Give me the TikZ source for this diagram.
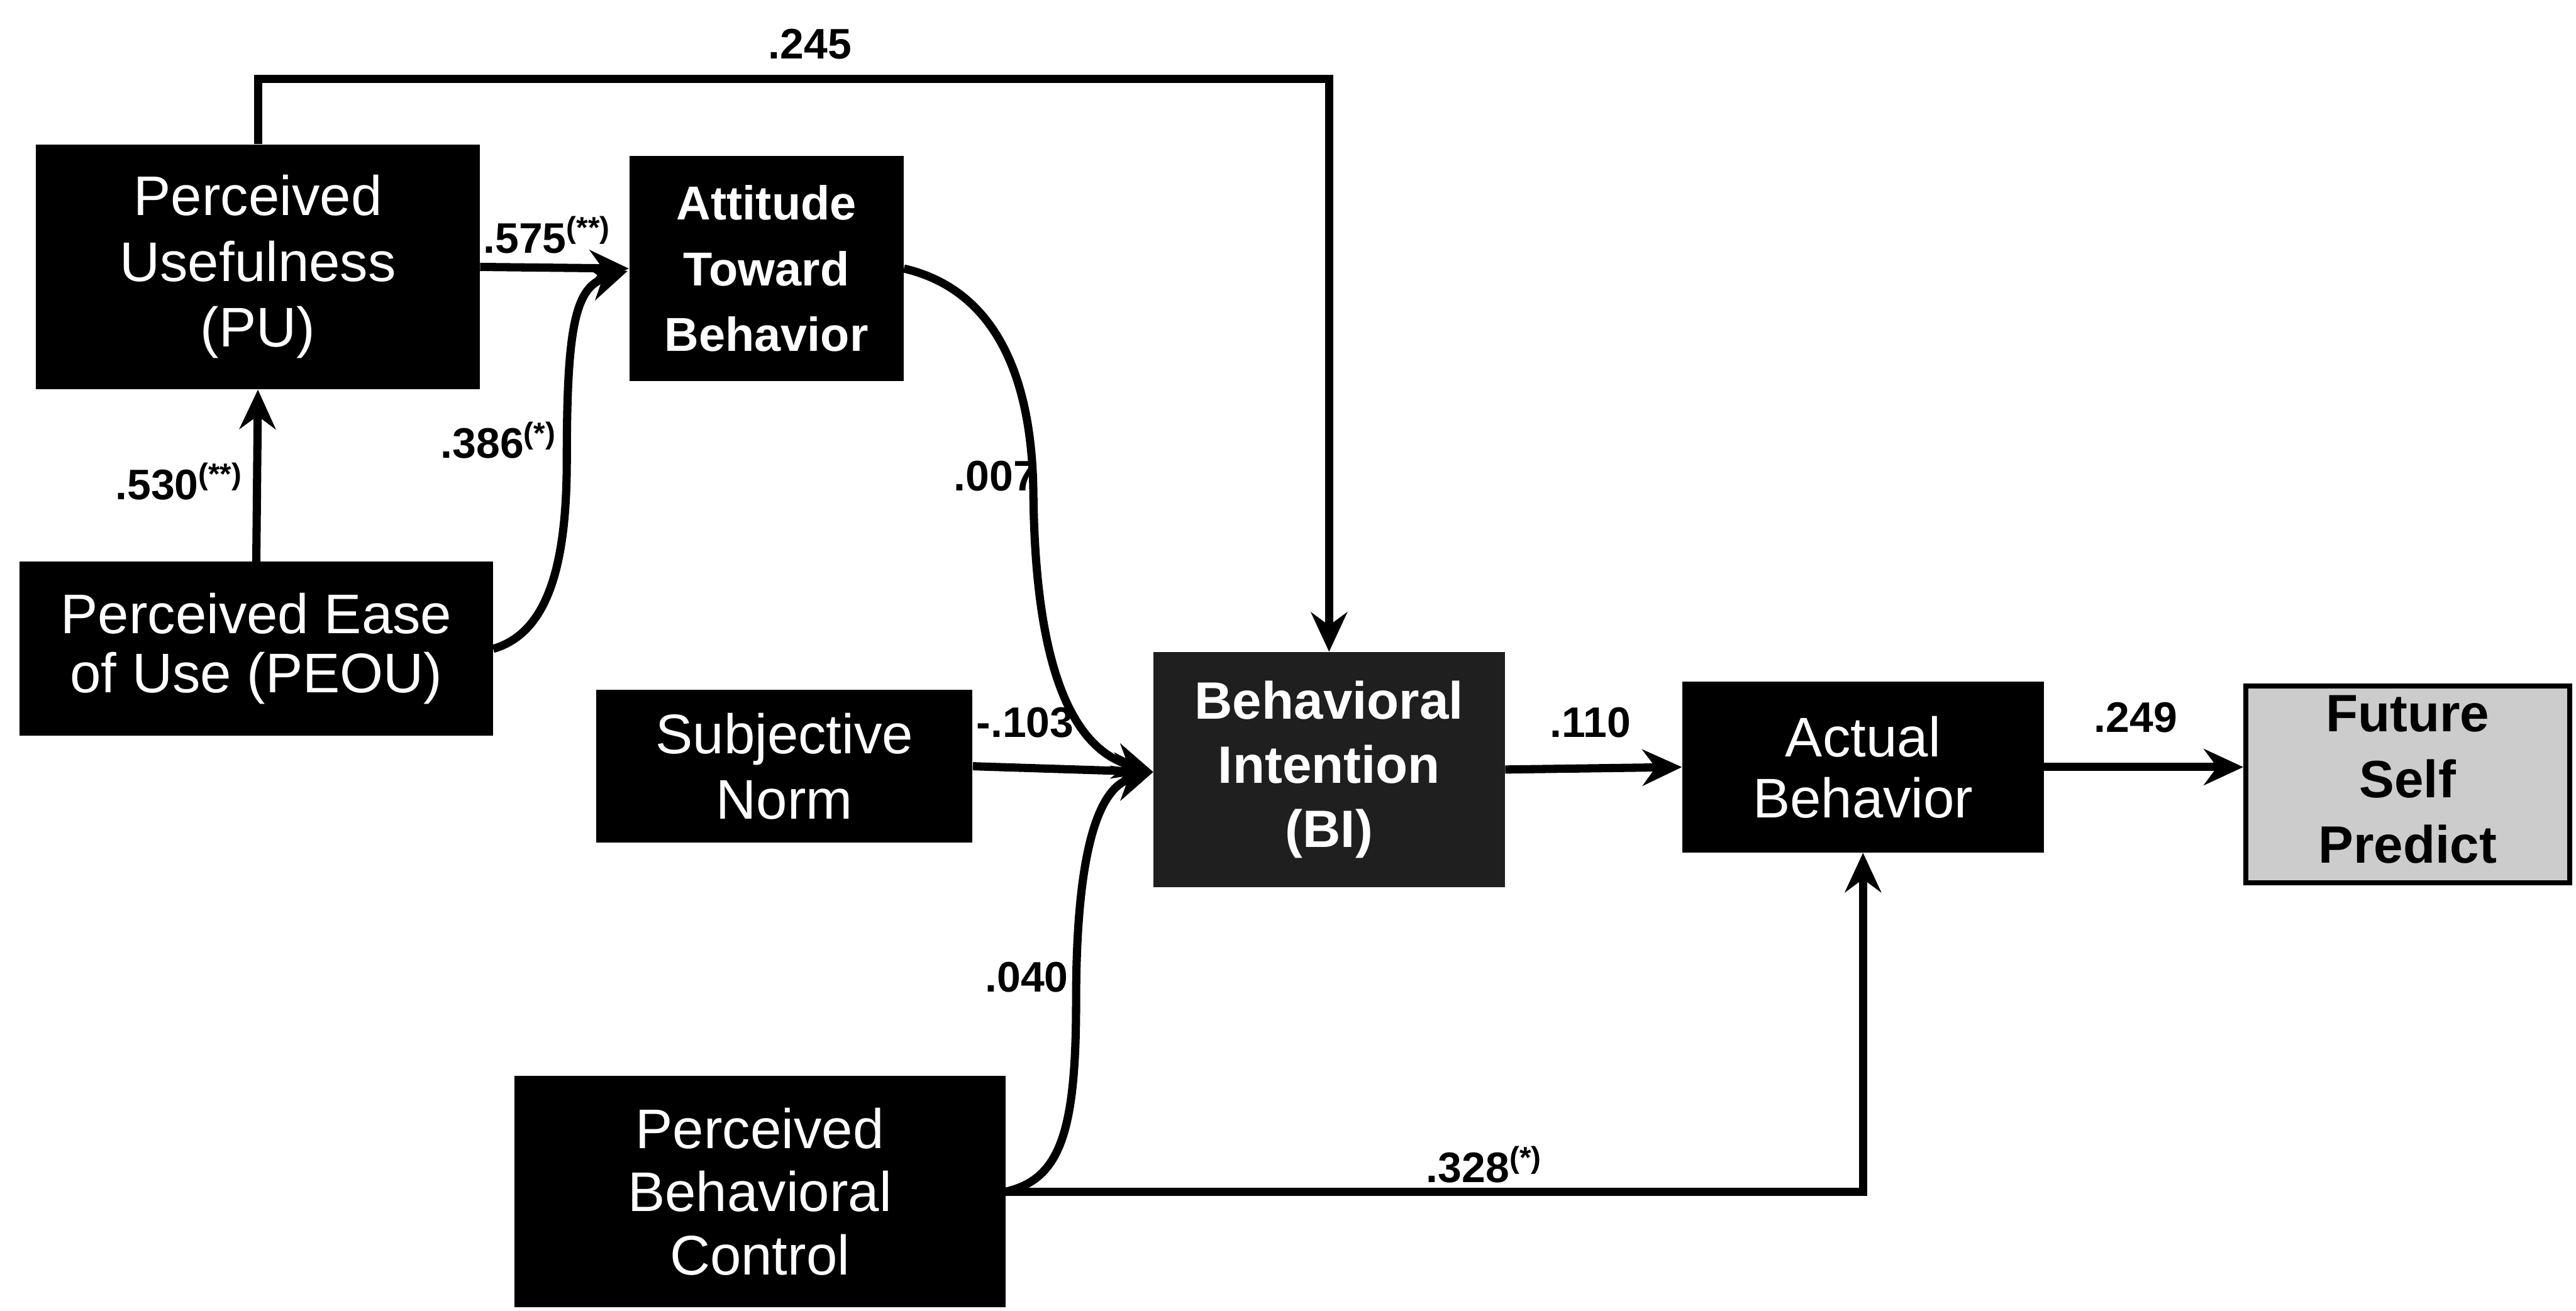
\documentclass[tikz,border=0pt]{standalone}
\usepackage{fontspec}
\setmainfont{Liberation Sans}
\usetikzlibrary{arrows.meta}
\begin{document}
\begin{tikzpicture}[x=1pt,y=-1pt,
  blk/.style={fill=black,text=white,inner sep=0pt,align=center,
    font=\fontsize{34}{40}\selectfont},
  conn/.style={line width=5pt,-{Stealth[length=24pt,width=22pt,inset=8pt]}},
  lbl/.style={font=\bfseries\fontsize{26}{30}\selectfont,inner sep=0pt}]
\useasboundingbox (0,0) rectangle (1568,798);
\fill[white] (0,0) rectangle (1568,798);
% nodes
\node[blk,minimum width=270pt,minimum height=149pt] (pu) at (157,162.5) {Perceived\\Usefulness\\(PU)};
\node[blk,minimum width=167pt,minimum height=137pt,font=\bfseries\fontsize{29}{40}\selectfont] (att) at (466.5,163.5) {Attitude\\Toward\\Behavior};
\node[blk,minimum width=288pt,minimum height=106pt,font=\fontsize{34}{36}\selectfont] (peou) at (156,395) {Perceived Ease\\of Use (PEOU)};
\node[blk,minimum width=229pt,minimum height=93pt] (sn) at (477.5,466.5) {Subjective\\Norm};
\node[blk,fill=black!88,minimum width=214pt,minimum height=143pt,font=\bfseries\fontsize{32}{39}\selectfont] (bi) at (809,468.5) {Behavioral\\Intention\\(BI)};
\node[blk,minimum width=220pt,minimum height=104pt,font=\fontsize{34}{37}\selectfont] (act) at (1134,467) {Actual\\Behavior};
\node[blk,fill=black!20,text=black,draw=black,line width=3pt,minimum width=197pt,minimum height=117pt,font=\bfseries\fontsize{32}{40}\selectfont] (fut) at (1465.5,477.5) {\raisebox{7pt}{\begin{tabular}{@{}c@{}}Future\\Self\\Predict\end{tabular}}};
\node[blk,minimum width=299pt,minimum height=141pt,font=\fontsize{34}{38.5}\selectfont] (pbc) at (462.5,725.5) {Perceived\\Behavioral\\Control};
% connectors
\coordinate (top) at (157,48);
\draw[conn] (pu.north) -- (pu.north |- top) -| (bi.north);
\draw[conn] (pu.east) -- (att.west);
\draw[conn] (peou.north) -- (pu.south);
\coordinate (attin) at (382,165);
\draw[conn] (peou.east) .. controls (335,385) and (345,340) .. (345,280)
  .. controls (345,200) and (350,175) .. (attin);
\coordinate (biin) at (702,470);
\draw[conn] (att.east) .. controls (600,175) and (628,220) .. (629,300)
  .. controls (630,400) and (650,455) .. (biin);
\draw[conn] (sn.east) -- (biin);
\draw[conn] (pbc.east) .. controls (645,718) and (655,690) .. (655,610)
  .. controls (655,520) and (668,480) .. (biin);
\draw[conn] (pbc.east) -| (act.south);
\draw[conn] (bi.east) -- (act.west);
\draw[conn] (act.east) -- (act.east -| fut.west);
% labels
\node[lbl] (l245) at (493,27) {.245};
\node[lbl,anchor=west] (l575) at (294,143) {.575\textsuperscript{(**)}};
\node[lbl,anchor=west] (l530) at (70,293) {.530\textsuperscript{(**)}};
\node[lbl,anchor=west] (l386) at (268,268) {.386\textsuperscript{(*)}};
\node[lbl] (l007) at (606,290) {.007};
\node[lbl] (l103) at (624,440) {-.103};
\node[lbl] (l040) at (625,595) {.040};
\node[lbl] (l110) at (968,440) {.110};
\node[lbl] (l249) at (1300,437) {.249};
\node[lbl,anchor=west] (l328) at (868,709) {.328\textsuperscript{(*)}};
\end{tikzpicture}
\end{document}
